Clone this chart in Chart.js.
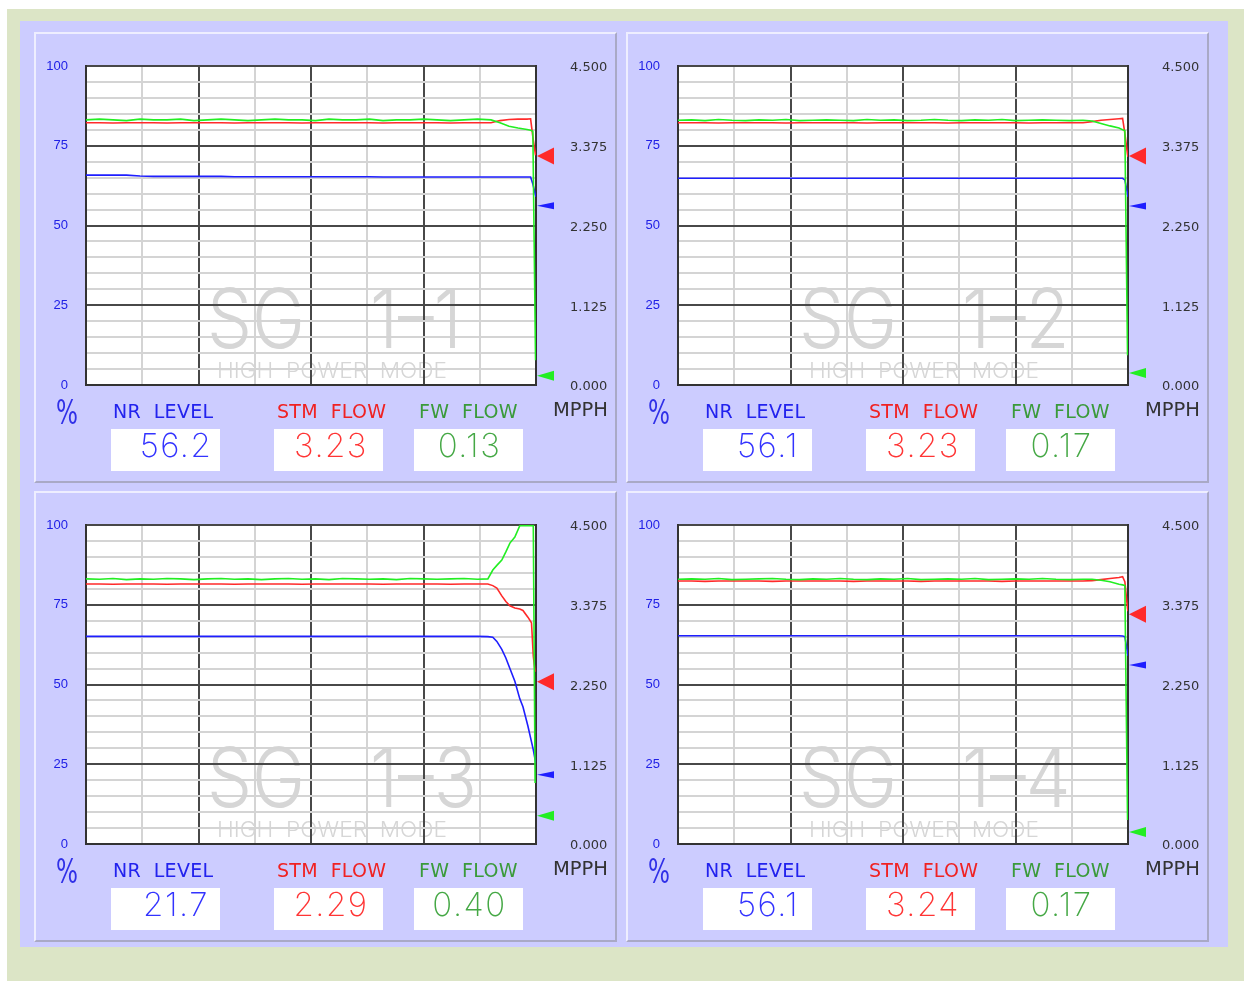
<!DOCTYPE html>
<html>
<head>
<meta charset="utf-8">
<script src="https://cdn.jsdelivr.net/npm/chart.js@4.4.1/dist/chart.umd.min.js"></script>
<style>
body { margin:0; background:#fff; width:1244px; height:981px; position:relative; overflow:hidden; font-family:"DejaVu Sans", sans-serif; }
#outer { position:absolute; left:7px; top:9px; width:1237px; height:972px; background:#dce5c6; }
#frame { position:absolute; left:20px; top:21px; width:1208px; height:926px; background:#ccccff; }
.panel { position:absolute; width:583px; height:451px; box-sizing:border-box; border:2px solid; border-color:#eeeeff #a9a9c6 #a9a9c6 #eeeeff; }
.cv { position:absolute; left:0; top:0; width:579px; height:447px; }
.lbl { position:absolute; top:368px; white-space:pre; font-size:19px; line-height:1; letter-spacing:0.3px; }
.pct { position:absolute; left:20px; top:361px; font-size:34px; line-height:1; color:#3030e8; transform:scaleX(0.68); transform-origin:left top; }
.mpph { position:absolute; left:517px; top:366px; font-size:19.5px; line-height:1; color:#333; }
.box { position:absolute; top:395px; width:109px; height:42px; background:#fff; text-align:center;
       font-family:"Inter", "DejaVu Sans", sans-serif; font-weight:200; font-size:33px; line-height:33px; letter-spacing:1.5px; box-sizing:border-box; }
</style>
</head>
<body>
<div id="outer"></div>
<div id="frame"></div>
<script>
// trend time base (percent of the window width)
const timesA = [0,3,6,9,12,15,18,21,24,27,30,33,36,39,42,45,48,51,54,57,60,63,66,69,72,75,78,81,84,87,90,92,94,96,98,98.8,99.3,99.9,100];
const times3 = [0,3,6,9,12,15,18,21,24,27,30,33,36,39,42,45,48,51,54,57,60,63,66,69,72,75,78,81,84,87,89.3,90.4,91.3,92.4,93.3,94.2,95.3,96.4,97.1,98.2,99.0,99.4,99.8,100];

// SG 1-1
const fw1 = [3.74,3.75,3.74,3.73,3.75,3.74,3.74,3.75,3.73,3.74,3.75,3.74,3.73,3.74,3.75,3.74,3.74,3.73,3.75,3.74,3.74,3.75,3.73,3.74,3.74,3.75,3.74,3.73,3.74,3.75,3.74,3.70,3.65,3.625,3.605,3.595,3.58,0.35,null];
const stm1 = [3.70,3.70,3.695,3.70,3.70,3.70,3.695,3.70,3.70,3.70,3.70,3.695,3.70,3.70,3.70,3.70,3.695,3.70,3.70,3.70,3.70,3.70,3.695,3.70,3.70,3.70,3.70,3.695,3.70,3.70,3.70,3.73,3.745,3.75,3.75,3.755,3.50,3.24,null];
const lvl1 = [65.8,65.8,65.8,65.8,65.5,65.4,65.4,65.4,65.4,65.4,65.4,65.3,65.3,65.3,65.3,65.3,65.3,65.3,65.3,65.3,65.3,65.3,65.2,65.2,65.2,65.2,65.2,65.2,65.2,65.2,65.2,65.2,65.2,65.2,65.2,65.2,63.0,59.5,59.0];
// SG 1-2
const fw2 = [3.735,3.74,3.73,3.745,3.735,3.73,3.74,3.735,3.745,3.73,3.735,3.74,3.735,3.73,3.745,3.735,3.74,3.73,3.735,3.745,3.735,3.73,3.74,3.735,3.745,3.73,3.735,3.74,3.735,3.73,3.735,3.725,3.69,3.655,3.625,3.60,3.59,0.42,null];
const stm2 = [3.70,3.70,3.70,3.695,3.70,3.70,3.70,3.70,3.695,3.70,3.70,3.70,3.70,3.70,3.695,3.70,3.70,3.70,3.70,3.70,3.695,3.70,3.70,3.70,3.70,3.70,3.695,3.70,3.70,3.70,3.70,3.715,3.735,3.745,3.755,3.76,3.55,3.25,3.22];
const lvl2 = [64.8,64.8,64.8,64.8,64.8,64.8,64.8,64.8,64.8,64.8,64.8,64.8,64.8,64.8,64.8,64.8,64.8,64.8,64.8,64.8,64.8,64.8,64.8,64.8,64.8,64.8,64.8,64.8,64.8,64.8,64.8,64.8,64.8,64.8,64.8,64.8,64.3,60.0,59.0];
// SG 1-3
const fw3 = [3.74,3.735,3.745,3.73,3.74,3.735,3.745,3.74,3.73,3.74,3.745,3.735,3.74,3.73,3.74,3.745,3.735,3.74,3.73,3.745,3.74,3.735,3.74,3.73,3.745,3.74,3.735,3.74,3.745,3.735,3.74,3.865,3.93,4.005,4.12,4.245,4.33,4.49,4.49,4.49,4.49,4.49,0.86,null];
const stm3 = [3.667,3.667,3.665,3.667,3.667,3.667,3.665,3.667,3.667,3.667,3.667,3.665,3.667,3.667,3.667,3.667,3.665,3.667,3.667,3.667,3.667,3.667,3.665,3.667,3.667,3.667,3.667,3.665,3.667,3.667,3.667,3.645,3.61,3.50,3.42,3.36,3.33,3.315,3.295,3.20,3.12,2.65,2.43,null];
const lvl3 = [65.1,65.1,65.1,65.1,65.1,65.1,65.1,65.1,65.1,65.1,65.1,65.1,65.1,65.1,65.1,65.1,65.1,65.1,65.1,65.1,65.1,65.1,65.1,65.1,65.1,65.1,65.1,65.1,65.1,65.1,65.0,64.8,63.5,61.0,58.3,55.0,51.0,45.5,43.0,37.0,32.0,29.5,26.5,25.4];
// SG 1-4
const fw4 = [3.735,3.74,3.735,3.745,3.73,3.735,3.74,3.745,3.735,3.73,3.74,3.735,3.745,3.735,3.73,3.74,3.735,3.745,3.73,3.735,3.74,3.735,3.745,3.73,3.735,3.74,3.735,3.745,3.735,3.73,3.735,3.735,3.72,3.70,3.665,3.655,3.645,0.34,null];
const stm4 = [3.71,3.71,3.705,3.71,3.71,3.71,3.71,3.705,3.71,3.71,3.71,3.71,3.71,3.705,3.71,3.71,3.71,3.71,3.705,3.71,3.71,3.71,3.71,3.71,3.705,3.71,3.71,3.71,3.71,3.71,3.71,3.715,3.73,3.745,3.76,3.77,3.70,3.32,3.285];
const lvl4 = [65.3,65.3,65.3,65.3,65.3,65.3,65.3,65.3,65.3,65.3,65.3,65.3,65.3,65.3,65.3,65.3,65.3,65.3,65.3,65.3,65.3,65.3,65.3,65.3,65.3,65.3,65.3,65.3,65.3,65.3,65.3,65.3,65.3,65.3,65.3,65.2,65.0,60.0,59.0];

// current readings
const sgNames = ['1\u20131', '1\u20132', '1\u20133', '1\u20134'];
const nrLevel = [56.2, 56.1, 21.7, 56.1];
const stmFlow = [3.23, 3.23, 2.29, 3.24];
const fwFlow = [0.13, 0.17, 0.40, 0.17];

const panelTimes = [timesA, timesA, times3, timesA];
const panelFw = [fw1, fw2, fw3, fw4];
const panelStm = [stm1, stm2, stm3, stm4];
const panelLvl = [lvl1, lvl2, lvl3, lvl4];
const panelPos = [[34, 32], [626, 32], [34, 491], [626, 491]];

const BLUE = '#1e1eff', RED = '#ff2a2a', GREEN = '#22ee22';

function xy(times, vals) {
    return times.map((t, i) => ({ x: t, y: vals[i] }));
}

function fitText(ctx, text, x, y, sx) {
    ctx.save();
    ctx.translate(x, y);
    ctx.scale(sx, 1);
    ctx.fillText(text, 0, 0);
    ctx.restore();
}

// white plot background + SG watermark, under the grid
const backdrop = {
    id: 'backdrop',
    beforeDraw(chart, args, opts) {
        const { ctx, chartArea: a } = chart;
        ctx.save();
        ctx.fillStyle = '#fff';
        ctx.fillRect(a.left, a.top, a.right - a.left, a.bottom - a.top);
        ctx.fillStyle = '#d6d6d6';
        ctx.textBaseline = 'alphabetic';
        ctx.font = '300 82px "Inter", "DejaVu Sans"';
        const sx = 98 / ctx.measureText('SG').width;
        fitText(ctx, 'SG', a.left + 121, a.top + 282, sx);
        fitText(ctx, opts.name, a.left + 284, a.top + 282, sx);
        ctx.font = '300 21px "Inter", "DejaVu Sans"';
        const t = 'HIGH  POWER  MODE';
        fitText(ctx, t, a.left + 131, a.top + 312, 230 / ctx.measureText(t).width);
        ctx.restore();
    }
};

// current value pointers on the right edge
const pointers = {
    id: 'pointers',
    afterDatasetsDraw(chart, args, opts) {
        const { ctx, chartArea: a } = chart;
        const yL = chart.scales.y, yR = chart.scales.yR;
        const marks = [
            [RED, yR.getPixelForValue(opts.stm), 8.5],
            [BLUE, yL.getPixelForValue(opts.lvl), 3.5],
            [GREEN, yR.getPixelForValue(opts.fw), 5]
        ];
        ctx.save();
        marks.forEach(([c, py, h]) => {
            ctx.fillStyle = c;
            ctx.beginPath();
            ctx.moveTo(a.right + 1, py);
            ctx.lineTo(a.right + 18, py - h);
            ctx.lineTo(a.right + 18, py + h);
            ctx.closePath();
            ctx.fill();
        });
        ctx.restore();
    }
};

function el(parent, cls, text, css) {
    const d = document.createElement('div');
    d.className = cls;
    if (text !== null) d.textContent = text;
    Object.assign(d.style, css || {});
    parent.appendChild(d);
    return d;
}

// keep the plot box fixed: no extra label padding on the vertical axes
function fixWidth(w) {
    return s => { s.width = w; s.paddingTop = 0; s.paddingBottom = 0; };
}

for (let i = 0; i < 4; i++) {
    const p = el(document.body, 'panel', null, { left: panelPos[i][0] + 'px', top: panelPos[i][1] + 'px' });
    const holder = el(p, 'cv', null);
    const canvas = document.createElement('canvas');
    holder.appendChild(canvas);

    el(p, 'pct', '%');
    el(p, 'lbl', 'NR  LEVEL', { left: '77px', color: '#2222ee' });
    el(p, 'lbl', 'STM  FLOW', { left: '241px', color: '#f02222' });
    el(p, 'lbl', 'FW  FLOW', { left: '383px', color: '#3a9a3a' });
    el(p, 'mpph', 'MPPH');
    el(p, 'box', nrLevel[i].toFixed(1), { left: '75px', color: '#3333ff', paddingLeft: '21px' });
    el(p, 'box', stmFlow[i].toFixed(2), { left: '238px', color: '#ff3535', paddingLeft: '5px' });
    el(p, 'box', fwFlow[i].toFixed(2), { left: '378px', color: '#45a845', paddingLeft: '2px' });

    new Chart(canvas.getContext('2d'), {
        type: 'line',
        data: {
            datasets: [
                { data: xy(panelTimes[i], panelFw[i]), yAxisID: 'yR', borderColor: GREEN, borderWidth: 1.6 },
                { data: xy(panelTimes[i], panelStm[i]), yAxisID: 'yR', borderColor: RED, borderWidth: 1.6 },
                { data: xy(panelTimes[i], panelLvl[i]), yAxisID: 'y', borderColor: BLUE, borderWidth: 1.6 }
            ]
        },
        options: {
            responsive: true,
            maintainAspectRatio: false,
            animation: false,
            events: [],
            layout: { padding: { top: 32, left: 0, right: 0, bottom: 0 } },
            elements: { point: { radius: 0 }, line: { tension: 0 } },
            plugins: {
                legend: { display: false },
                tooltip: { enabled: false },
                backdrop: { name: sgNames[i] },
                pointers: { stm: stmFlow[i], lvl: nrLevel[i], fw: fwFlow[i] }
            },
            scales: {
                x: {
                    type: 'linear', min: 0, max: 100,
                    ticks: { display: false, stepSize: 12.5, autoSkip: false },
                    grid: {
                        drawTicks: false, lineWidth: 2,
                        color: c => (c.tick.value % 25 === 0 ? '#484848' : '#d4d4d4')
                    },
                    border: { display: true, color: '#333', width: 2 },
                    afterFit: s => { s.height = 96; }
                },
                y: {
                    position: 'left', min: 0, max: 100,
                    ticks: {
                        stepSize: 5, autoSkip: false, padding: 18, color: '#2020e6',
                        font: { family: 'Liberation Sans', size: 13 },
                        callback: v => (v % 25 === 0 ? String(v) : '')
                    },
                    grid: {
                        drawTicks: false, lineWidth: 2,
                        color: c => (c.tick.value % 25 === 0 ? '#484848' : '#d4d4d4')
                    },
                    border: { display: true, color: '#333', width: 2 },
                    afterFit: fixWidth(50)
                },
                yR: {
                    position: 'right', min: 0, max: 4.5,
                    ticks: {
                        stepSize: 1.125, autoSkip: false, padding: 34, labelOffset: 2, color: '#333',
                        font: { family: 'DejaVu Sans', size: 13 },
                        callback: v => v.toFixed(3)
                    },
                    grid: { drawOnChartArea: false, drawTicks: false },
                    border: { display: true, color: '#333', width: 2 },
                    afterFit: fixWidth(79)
                }
            }
        },
        plugins: [backdrop, pointers]
    });
}
</script>
</body>
</html>
